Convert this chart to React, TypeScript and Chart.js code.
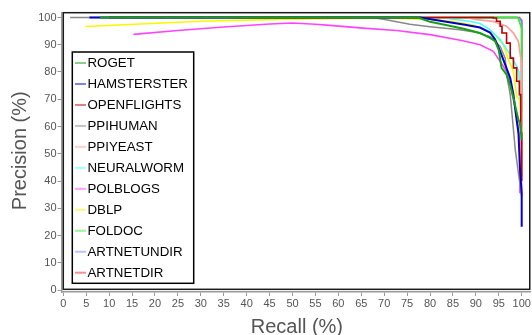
import React, { useEffect, useRef } from 'react';
import { Chart, registerables } from 'chart.js';

Chart.register(...registerables);

const FONT = '"Liberation Sans", Arial, Helvetica, sans-serif';

const X_TICKS = [0, 5, 10, 15, 20, 25, 30, 35, 40, 45, 50, 55, 60, 65, 70, 75, 80, 85, 90, 95, 100];
const Y_TICKS = [0, 10, 20, 30, 40, 50, 60, 70, 80, 90, 100];

const NAMES = ['ROGET', 'HAMSTERSTER', 'OPENFLIGHTS', 'PPIHUMAN', 'PPIYEAST', 'NEURALWORM', 'POLBLOGS', 'DBLP', 'FOLDOC', 'ARTNETUNDIR', 'ARTNETDIR'];
const COLORS = ['#16a016', '#0000cc', '#bb0000', '#888888', '#ffa0a0', '#44ffff', '#ff44ff', '#f8f800', '#33ee33', '#8080ff', '#ee2020'];

// [recall %, precision %]
const ROGET = [[8, 100], [77.4, 100], [80, 98.4], [84, 97.1], [87.3, 95.9], [90.9, 94.3], [93.1, 92.5], [94.2, 91.3], [95.0, 88], [95.6, 81.5], [96.7, 79], [97.5, 75], [98.2, 70.5], [98.8, 66], [99.3, 62.4], [99.6, 61.3], [100, 55]];
const HAMSTERSTER = [[5.7, 100], [77.8, 100], [82.2, 98.8], [87.3, 97.4], [90.9, 96.3], [93.1, 94.5], [94.2, 91.9], [95.3, 87.6], [96.4, 82.7], [97.5, 77.8], [98.2, 71.7], [98.8, 63.6], [99.3, 57.5], [99.6, 45.2], [100, 35.6], [100, 23.2]];
const OPENFLIGHTS = [[10, 100], [93.8, 100], [94.5, 99.8], [95.3, 98.6], [95.7, 96.8], [96.7, 94.3], [97.5, 90.6], [98.2, 85.1], [98.9, 81.5], [99.5, 76.6], [99.8, 71.7], [100, 57.6], [100, 40]];
const PPIHUMAN = [[1.5, 100], [67.6, 100], [71, 99], [75.6, 97.5], [80, 96.6], [86.5, 95.5], [90, 94.6], [93.1, 93], [95.3, 89.4], [96.4, 85.1], [96.7, 79], [97.5, 71.7], [98.6, 51.4], [100, 34.2]];
const PPIYEAST = [[10, 100], [88, 100], [90.2, 99.2], [93.8, 98.6], [96.7, 96.8], [98.2, 94.3], [99.3, 91.2], [99.9, 83.9], [100, 66.8], [100, 35]];
const NEURALWORM = [[10, 100], [82, 100], [86, 99.2], [88.7, 98.6], [90.9, 97.8], [93.1, 95.5], [95.3, 91.9], [97.5, 86.4], [98.9, 82.1], [99.4, 80], [99.6, 70]];
const POLBLOGS = [[15.3, 93.8], [25, 95.2], [35, 96.5], [45, 97.6], [50, 98], [55, 97.5], [58.2, 97.1], [65.4, 96.1], [72.7, 95.2], [80, 93.7], [87.2, 91.5], [90.9, 90], [93.8, 87.6], [95.3, 83.9], [96.7, 80.2], [97.5, 76.6], [98.1, 70.5], [98.9, 64], [99.6, 54], [99.6, 35.5]];
const DBLP = [[4.8, 96.7], [30, 98.6], [50, 99.4], [70, 99.7], [80, 99.3], [85, 98.5], [89.4, 97.2], [93.8, 94.2], [96, 90], [97, 85], [98.2, 80], [98.9, 71], [99.6, 69.7], [100, 57]];
const FOLDOC = [[10, 100], [98.9, 100], [99.3, 99.5], [99.6, 98], [100, 96], [100, 42]];
const ARTNETUNDIR = [[10, 100], [99.2, 100], [99.7, 99.5], [100, 98.5], [100, 60]];
const ARTNETDIR = [[10, 100], [99.5, 100], [100, 99], [100, 65]];

const SERIES = [ROGET, HAMSTERSTER, OPENFLIGHTS, PPIHUMAN, PPIYEAST, NEURALWORM, POLBLOGS, DBLP, FOLDOC, ARTNETUNDIR, ARTNETDIR];
const WIDTHS = [2, 2, 1.6, 1.5, 1.8, 1.6, 1.6, 1.6, 1.8, 1.6, 1.6];
const STEPPED = [false, false, 'after', false, false, false, false, false, false, false, false];

const framePlugin = {
  id: 'framePlugin',
  afterDatasetsDraw(chart: any) {
    const { ctx, chartArea } = chart;
    const xs = chart.scales.x;
    const ys = chart.scales.y;
    const left = xs.getPixelForValue(0);
    const bottom = ys.getPixelForValue(0) - 0.7;
    ctx.save();
    ctx.strokeStyle = '#1a1a1a';
    ctx.lineWidth = 1.5;
    ctx.strokeRect(left, chartArea.top, chartArea.right - left - 0.75, bottom - chartArea.top);
    ctx.restore();
  },
  afterDraw(chart: any) {
    const { ctx } = chart;
    const xs = chart.scales.x;
    const ys = chart.scales.y;
    ctx.save();
    ctx.fillStyle = '#555555';
    ctx.font = `20px ${FONT}`;
    ctx.textAlign = 'center';
    ctx.textBaseline = 'middle';
    const cx = (xs.getPixelForValue(0) + chart.chartArea.right) / 2;
    ctx.fillText('Recall (%)', cx, 327);
    ctx.translate(20, (ys.getPixelForValue(0) + ys.getPixelForValue(100)) / 2 - 3);
    ctx.rotate(-Math.PI / 2);
    ctx.fillText('Precision (%)', 0, 0);
    ctx.restore();

    ctx.save();
    const lx = 72.3, ly = 52, lw = 121.4, lh = 231.3;
    ctx.fillStyle = '#ffffff';
    ctx.fillRect(lx, ly, lw, lh);
    ctx.strokeStyle = '#000000';
    ctx.lineWidth = 1.5;
    ctx.strokeRect(lx, ly, lw, lh);
    ctx.font = `13.3px ${FONT}`;
    ctx.textAlign = 'left';
    ctx.textBaseline = 'middle';
    chart.data.datasets.forEach((ds: any, i: number) => {
      const y = 63 + i * 20.97;
      ctx.globalAlpha = 0.5;
      ctx.strokeStyle = ds.borderColor;
      ctx.lineWidth = 2;
      ctx.beginPath();
      ctx.moveTo(75, y);
      ctx.lineTo(86, y);
      ctx.stroke();
      ctx.globalAlpha = 1;
      ctx.fillStyle = '#000000';
      ctx.fillText(ds.label, 87.5, y + 0.5);
    });
    ctx.restore();
  },
};

export default function App() {
  const ref = useRef<HTMLCanvasElement | null>(null);

  useEffect(() => {
    document.body.style.margin = '0';
    if (!ref.current) return;
    const datasets = NAMES.map((name, i) => ({
      label: name,
      data: SERIES[i].map(([x, y]) => ({ x, y })),
      borderColor: COLORS[i],
      backgroundColor: COLORS[i],
      borderWidth: WIDTHS[i],
      pointRadius: 0,
      fill: false,
      tension: 0,
      stepped: STEPPED[i] as any,
    }));
    const tickFont = { size: 11, family: FONT };
    const chart = new Chart(ref.current, {
      type: 'line',
      data: { datasets },
      options: {
        animation: false,
        responsive: false,
        maintainAspectRatio: false,
        parsing: false as any,
        layout: { padding: { top: 12.7, right: 1.5, left: 0, bottom: 0 } },
        plugins: { legend: { display: false }, tooltip: { enabled: false } },
        scales: {
          x: {
            type: 'linear',
            min: -0.39,
            max: 101.92,
            afterBuildTicks: (s: any) => { s.ticks = X_TICKS.map((v) => ({ value: v })); },
            afterFit: (s: any) => { s.height = 43; },
            grid: { drawOnChartArea: false, drawTicks: true, tickLength: 4, color: '#999999', lineWidth: 1 },
            border: { display: true, color: '#999999', width: 1.5 },
            ticks: { color: '#555555', font: tickFont, padding: 1, maxRotation: 0, autoSkip: false },
          },
          y: {
            type: 'linear',
            min: -0.73,
            max: 101.76,
            afterBuildTicks: (s: any) => { s.ticks = Y_TICKS.map((v) => ({ value: v })); },
            afterFit: (s: any) => { s.width = 61.5; },
            grid: { drawOnChartArea: false, drawTicks: true, tickLength: 4, color: '#999999', lineWidth: 1 },
            border: { display: true, color: '#999999', width: 1.5 },
            ticks: { color: '#555555', font: tickFont, padding: 1, autoSkip: false },
          },
        },
      },
      plugins: [framePlugin],
    });
    return () => chart.destroy();
  }, []);

  return (
    <div style={{ width: 532, height: 335 }}>
      <canvas ref={ref} width={532} height={335} style={{ display: 'block' }} />
    </div>
  );
}
